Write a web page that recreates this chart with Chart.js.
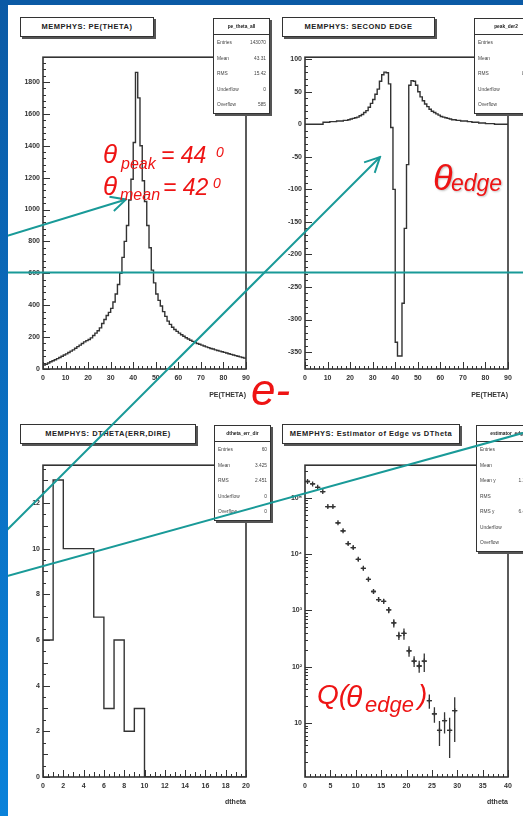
<!DOCTYPE html>
<html>
<head>
<meta charset="utf-8">
<script src="https://cdn.jsdelivr.net/npm/chart.js@4.4.1/dist/chart.umd.min.js"></script>
<style>
  body { margin: 0; width: 523px; height: 816px; overflow: hidden; background: #fff; position: relative; font-family: "Liberation Sans", Arial, sans-serif; }
  .band-left { position: absolute; left: 0; top: 0; width: 8px; height: 816px; background: linear-gradient(#0b5aa5, #0a82da); z-index: 5; }
  .band-top { position: absolute; left: 0; top: 0; width: 523px; height: 5px; background: #0b5aa5; z-index: 5; }
  canvas { position: absolute; }
  .title { position: absolute; height: 18px; border: 1px solid #333; box-shadow: 2px 2px 0 #555; background: #fff; font: bold 7.5px "Liberation Sans", sans-serif; letter-spacing: 0.5px; color: #222; text-align: center; line-height: 18px; z-index: 2; white-space: nowrap; }
  .stats { position: absolute; border: 1px solid #333; box-shadow: 2px 2px 0 #555; background: #fff; font: 4.8px "Liberation Sans", sans-serif; color: #444; z-index: 2; }
  .stats .head { height: 15px; line-height: 15px; border-bottom: 1px solid #333; text-align: center; font-weight: bold; color: #222; }
  .stats .row { display: flex; justify-content: space-between; padding: 0 3px; line-height: 15.5px; }
  .red { position: absolute; color: #ee1414; font-style: italic; font-family: "Liberation Sans", Arial, sans-serif; line-height: 1; white-space: nowrap; z-index: 4; }
  svg { position: absolute; left: 0; top: 0; z-index: 3; }
</style>
</head>
<body>
<div class="band-left"></div>
<div class="band-top"></div>

<canvas id="peTheta" width="262" height="360" style="left:0;top:50px"></canvas>
<canvas id="secondEdge" width="261" height="360" style="left:262px;top:50px"></canvas>
<canvas id="dTheta" width="262" height="358" style="left:0;top:458px"></canvas>
<canvas id="edgeEst" width="261" height="358" style="left:262px;top:458px"></canvas>

<div class="title" style="left:20px;top:17px;width:132px">MEMPHYS: PE(THETA)</div>
<div class="title" style="left:282px;top:17px;width:151px">MEMPHYS: SECOND EDGE</div>
<div class="title" style="left:20px;top:424px;width:174px">MEMPHYS: DTHETA(ERR,DIRE)</div>
<div class="title" style="left:282px;top:424px;width:176px">MEMPHYS: Estimator of Edge vs DTheta</div>

<div class="stats" style="left:213px;top:18px;width:55px">
  <div class="head">pe_theta_all</div>
  <div class="row"><span>Entries</span><span>143070</span></div>
  <div class="row"><span>Mean</span><span>43.31</span></div>
  <div class="row"><span>RMS</span><span>15.42</span></div>
  <div class="row"><span>Underflow</span><span>0</span></div>
  <div class="row"><span>Overflow</span><span>585</span></div>
</div>
<div class="stats" style="left:474px;top:18px;width:62px">
  <div class="head">peak_der2</div>
  <div class="row"><span>Entries</span><span>90</span></div>
  <div class="row"><span>Mean</span><span>43.1</span></div>
  <div class="row"><span>RMS</span><span>8.021</span></div>
  <div class="row"><span>Underflow</span><span>0</span></div>
  <div class="row"><span>Overflow</span><span>0</span></div>
</div>
<div class="stats" style="left:214px;top:425px;width:55px">
  <div class="head">dtheta_err_dir</div>
  <div class="row"><span>Entries</span><span>60</span></div>
  <div class="row"><span>Mean</span><span>3.425</span></div>
  <div class="row"><span>RMS</span><span>2.451</span></div>
  <div class="row"><span>Underflow</span><span>0</span></div>
  <div class="row"><span>Overflow</span><span>0</span></div>
</div>
<div class="stats" style="left:476px;top:425px;width:62px">
  <div class="head">estimator_edge</div>
  <div class="row"><span>Entries</span><span>60</span></div>
  <div class="row"><span>Mean</span><span>3.12</span></div>
  <div class="row"><span>Mean y</span><span>1.2e+05</span></div>
  <div class="row"><span>RMS</span><span>2.58</span></div>
  <div class="row"><span>RMS y</span><span>6.4e+04</span></div>
  <div class="row"><span>Underflow</span><span>0</span></div>
  <div class="row"><span>Overflow</span><span>0</span></div>
</div>

<svg width="523" height="816" viewBox="0 0 523 816">
  <defs>
    <marker id="head" viewBox="0 0 12 12" refX="11" refY="6" markerWidth="9" markerHeight="9" orient="auto" markerUnits="strokeWidth">
      <path d="M1,1 L11,6 L1,11" fill="none" stroke="#199a98" stroke-width="1.3"/>
    </marker>
  </defs>
  <g stroke="#199a98" stroke-width="2" fill="none">
    <line x1="0" y1="238" x2="126" y2="199.5" marker-end="url(#head)"/>
    <line x1="0" y1="272.5" x2="523" y2="272.5"/>
    <line x1="0" y1="537" x2="380" y2="157" marker-end="url(#head)"/>
    <line x1="0" y1="578" x2="523" y2="433"/>
  </g>
</svg>

<!-- annotations -->
<span class="red" style="left:103px;top:141px;font-size:26px">θ</span>
<span class="red" style="left:121px;top:155.5px;font-size:16px">peak</span>
<span class="red" style="left:161px;top:143.5px;font-size:23px">= 44</span>
<span class="red" style="left:216px;top:145px;font-size:14px">0</span>
<span class="red" style="left:103px;top:173px;font-size:26px">θ</span>
<span class="red" style="left:120px;top:186.5px;font-size:16px">mean</span>
<span class="red" style="left:163px;top:175.5px;font-size:23px">= 42</span>
<span class="red" style="left:213px;top:176px;font-size:14px">0</span>

<span class="red" style="left:433px;top:159.5px;font-size:36px;text-shadow:1px 1px 2px rgba(0,0,0,.25)">θ</span>
<span class="red" style="left:451px;top:171.5px;font-size:23px;text-shadow:1px 1px 2px rgba(0,0,0,.25)">edge</span>

<span class="red" style="left:251px;top:368px;font-size:44px">e-</span>

<span class="red" style="left:317px;top:681px;font-size:28px">Q(</span>
<span class="red" style="left:346px;top:681.5px;font-size:30px">θ</span>
<span class="red" style="left:365px;top:693.5px;font-size:22px">edge</span>
<span class="red" style="left:418px;top:681px;font-size:28px">)</span>

<script>
// PE(theta): 1 degree bins, 0..90
const peTheta = [
  25, 30, 38, 45, 52, 58, 65, 72, 80, 88,
  95, 103, 112, 120, 130, 140, 150, 160, 170, 178,
  185, 195, 210, 225, 240, 258, 285, 310, 335, 355,
  380, 420, 470, 530, 600, 700, 800, 900, 1060, 1190,
  1420, 1860, 1700, 1400, 1180, 1050, 900, 760, 620, 540,
  470, 430, 395, 360, 330, 300, 280, 262, 248, 236,
  225, 215, 205, 196, 188, 180, 173, 166, 160, 155,
  150, 144, 139, 134, 129, 125, 120, 116, 112, 108,
  104, 100, 96, 92, 88, 84, 80, 76, 72, 68
];

// second derivative of PE(theta), same binning
const secondEdge = [
  0, 0, 0, 0, 0, 0, 0, 0, 3, 3,
  3, 4, 4, 4, 5, 5, 5, 6, 6, 7,
  8, 9, 10, 11, 13, 15, 18, 21, 26, 32,
  38, 46, 54, 66, 76, 80, 79, 62, -5, -100,
  -335, -356, -356, -275, -160, -62, 60, 67, 66, 60,
  50, 42, 36, 31, 27, 23, 20, 18, 16, 14,
  12, 11, 10, 9, 8, 7, 7, 6, 6, 5,
  5, 5, 4, 4, 3, 3, 3, 2, 2, 2,
  1, 1, 1, 1, 0, 0, 0, 0, 0, 0
];

// dtheta(err, dir): 1 degree bins, 0..20
const dthetaCounts = [6, 13, 10, 10, 10, 7, 3, 6, 2, 3, 0, 0, 0, 0, 0, 0, 0, 0, 0, 0];

// estimator of edge vs dtheta, bin centres 0.5 .. 29.5
const edgeEstimator = [
  195000, 177000, 154000, 129000, 70000, 70000, 36000, 26000, 15400, 13100,
  8100, 5600, 3570, 2170, 1560, 1450, 1020, 600, 357, 390,
  191, 126, 103, 126, 25, 14.6, 7.4, 11, 7.4, 16.6
];
const edgeErrors = [
  6000, 5500, 5000, 4500, 3000, 3000, 1800, 1400, 900, 800,
  550, 400, 280, 190, 150, 140, 130, 100, 60, 90,
  40, 27, 25, 45, 7, 4.5, 3.5, 4.5, 5, 12
];

const logTickValues = [10, 100, 1000, 10000, 100000];
const logTickLabels = ['10', '10²', '10³', '10⁴', '10⁵'];

const ink = '#333';
const tickFont = { family: 'Liberation Sans', size: 7, weight: 'bold' };

// histogram as a step line: one point per lower bin edge plus the closing edge
const histPoints = (values, lo, width) => {
  const pts = values.map((v, i) => ({ x: lo + i * width, y: v }));
  pts.push({ x: lo + values.length * width, y: values[values.length - 1] });
  return pts;
};

// ROOT style frame with ticks drawn inside the plot area
const rootAxes = {
  id: 'rootAxes',
  afterDatasetsDraw(chart, args, opts) {
    const { ctx, chartArea: a, scales: { x, y } } = chart;
    ctx.save();
    ctx.strokeStyle = ink;
    ctx.lineWidth = 1;
    ctx.beginPath();
    const near = (v, step) => Math.abs(v / step - Math.round(v / step)) < 1e-6;
    const tickLen = (v, major, mid) => near(v, major) ? 7 : (mid && near(v, mid) ? 5 : 3);

    let start = Math.ceil(x.min / opts.xMinor - 1e-9);
    let end = Math.floor(x.max / opts.xMinor + 1e-9);
    for (let i = start; i <= end; i++) {
      const v = i * opts.xMinor;
      const px = Math.round(x.getPixelForValue(v)) + 0.5;
      ctx.moveTo(px, a.bottom);
      ctx.lineTo(px, a.bottom - tickLen(v, opts.xMajor, opts.xMid));
    }

    if (y.type === 'logarithmic') {
      for (let d = Math.floor(Math.log10(y.min)); d <= Math.ceil(Math.log10(y.max)); d++) {
        for (let m = 1; m <= 9; m++) {
          const v = m * Math.pow(10, d);
          if (v < y.min || v > y.max) continue;
          const py = Math.round(y.getPixelForValue(v)) + 0.5;
          ctx.moveTo(a.left, py);
          ctx.lineTo(a.left + (m === 1 ? 7 : 3), py);
        }
      }
    } else {
      start = Math.ceil(y.min / opts.yMinor - 1e-9);
      end = Math.floor(y.max / opts.yMinor + 1e-9);
      for (let i = start; i <= end; i++) {
        const v = i * opts.yMinor;
        const py = Math.round(y.getPixelForValue(v)) + 0.5;
        ctx.moveTo(a.left, py);
        ctx.lineTo(a.left + tickLen(v, opts.yMajor, opts.yMid), py);
      }
    }
    ctx.stroke();

    ctx.lineWidth = 1.6;
    ctx.strokeRect(a.left, a.top, a.width, a.height);
    ctx.restore();
  }
};

// vertical and horizontal error bars for the estimator points
const errorBars = {
  id: 'errorBars',
  afterDatasetsDraw(chart, args, opts) {
    if (!opts.errors) return;
    const { ctx, scales: { x, y } } = chart;
    const pts = chart.data.datasets[0].data;
    ctx.save();
    ctx.strokeStyle = ink;
    ctx.lineWidth = 1.3;
    ctx.beginPath();
    pts.forEach((p, i) => {
      const e = opts.errors[i];
      const px = x.getPixelForValue(p.x);
      const py = y.getPixelForValue(p.y);
      const lo = Math.max(p.y - e, y.min);
      ctx.moveTo(px, y.getPixelForValue(p.y + e));
      ctx.lineTo(px, y.getPixelForValue(lo));
      ctx.moveTo(x.getPixelForValue(p.x - opts.halfWidth), py);
      ctx.lineTo(x.getPixelForValue(p.x + opts.halfWidth), py);
    });
    ctx.stroke();
    ctx.restore();
  }
};

Chart.register(rootAxes, errorBars);

const plainNumber = (v) => String(v);

function rootOptions(c) {
  return {
    responsive: false,
    animation: false,
    devicePixelRatio: 1,
    layout: { padding: { top: 6, right: c.padRight, left: 0, bottom: 0 } },
    plugins: {
      legend: { display: false },
      tooltip: { enabled: false },
      rootAxes: c.axes,
      errorBars: c.errorBars || {}
    },
    scales: {
      x: {
        type: 'linear', min: c.xMin, max: c.xMax,
        afterFit: (s) => { s.height = c.xHeight; },
        grid: { display: false, drawTicks: false }, border: { display: false },
        ticks: { stepSize: c.xStep, includeBounds: false, padding: 5, maxRotation: 0, autoSkip: false, color: ink, font: tickFont, callback: plainNumber },
        title: { display: true, text: c.xTitle, align: 'end', color: ink, font: tickFont, padding: { top: 0, bottom: c.titlePad } }
      },
      y: Object.assign({
        min: c.yMin, max: c.yMax,
        afterFit: (s) => { s.width = 43; },
        grid: { display: false, drawTicks: false }, border: { display: false },
        ticks: { stepSize: c.yStep, includeBounds: false, padding: 3, color: ink, font: tickFont, callback: plainNumber }
      }, c.yExtra || {})
    }
  };
}

const histLine = (values, lo, width) => ({
  data: histPoints(values, lo, width),
  stepped: true,
  borderColor: ink,
  borderWidth: 1.4,
  pointRadius: 0,
  fill: false
});

new Chart(document.getElementById('peTheta'), {
  type: 'line',
  data: { datasets: [histLine(peTheta, 0, 1)] },
  options: rootOptions({
    padRight: 16, xMin: 0, xMax: 90, xStep: 10, xHeight: 41, xTitle: 'PE(THETA)', titlePad: 11,
    yMin: 0, yMax: 1955, yStep: 200,
    axes: { xMinor: 2, xMajor: 10, yMinor: 40, yMajor: 200 }
  })
});

new Chart(document.getElementById('secondEdge'), {
  type: 'line',
  data: { datasets: [histLine(secondEdge, 0, 1)] },
  options: rootOptions({
    padRight: 15, xMin: 0, xMax: 90, xStep: 10, xHeight: 41, xTitle: 'PE(THETA)', titlePad: 11,
    yMin: -376, yMax: 103, yStep: 50,
    axes: { xMinor: 2, xMajor: 10, yMinor: 10, yMajor: 50 }
  })
});

new Chart(document.getElementById('dTheta'), {
  type: 'line',
  data: { datasets: [histLine(dthetaCounts, 0, 1)] },
  options: rootOptions({
    padRight: 16, xMin: 0, xMax: 20, xStep: 2, xHeight: 39, xTitle: 'dtheta', titlePad: 10,
    yMin: 0, yMax: 13.65, yStep: 2,
    axes: { xMinor: 0.5, xMajor: 2, xMid: 1, yMinor: 0.5, yMajor: 2, yMid: 1 }
  })
});

new Chart(document.getElementById('edgeEst'), {
  type: 'scatter',
  data: {
    datasets: [{
      data: edgeEstimator.map((v, i) => ({ x: i + 0.5, y: v })),
      pointStyle: 'cross',
      pointRadius: 2.5,
      borderColor: ink,
      borderWidth: 1.3
    }]
  },
  options: rootOptions({
    padRight: 15, xMin: 0, xMax: 40, xStep: 5, xHeight: 39, xTitle: 'dtheta', titlePad: 10,
    yMin: 1.1, yMax: 380000,
    yExtra: {
      type: 'logarithmic',
      afterBuildTicks: (s) => { s.ticks = logTickValues.map((v) => ({ value: v })); },
      ticks: {
        padding: 3, color: ink, font: tickFont,
        callback: (v) => logTickLabels[logTickValues.indexOf(v)] ?? ''
      }
    },
    axes: { xMinor: 1, xMajor: 5 },
    errorBars: { errors: edgeErrors, halfWidth: 0.5 }
  })
});
</script>
</body>
</html>
